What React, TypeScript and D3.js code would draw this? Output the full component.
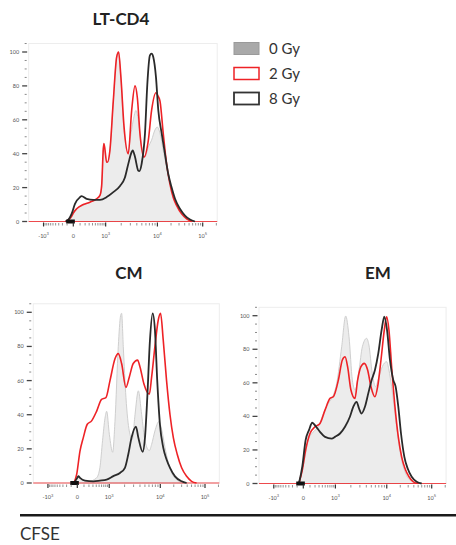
import React from "react";
import * as d3 from "d3";

type Pt = [number, number];

// ---------- text / axis definitions ----------
const PANEL_TITLES = ["LT-CD4", "CM", "EM"];
const SERIES_LABELS = ["0 Gy", "2 Gy", "8 Gy"];
const Y_TICK_VALUES = [0, 20, 40, 60, 80, 100];
const Y_MINOR_VALUES = [5, 10, 15, 25, 30, 35, 45, 50, 55, 65, 70, 75, 85, 90, 95, 105];
const X_TICK_VALUES = [-1000, 0, 1000, 10000, 100000];
const X_TICK_BASES = ["-10", "0", "10", "10", "10"];
const X_TICK_EXPS = ["3", "", "3", "4", "5"];
const X_MINOR_VALUES = [
  -900, -800, -700, -600, -500, -400, -300, -200, -100,
  100, 200, 300, 400, 500, 600, 700, 800, 900,
  2000, 3000, 4000, 5000, 6000, 7000, 8000, 9000,
  20000, 30000, 40000, 50000, 60000, 70000, 80000, 90000, 200000,
];
const CHANNEL_DOMAIN: [number, number] = [-345, 1112];
const Y_MAX = 105;
const AXIS_TITLE = "CFSE";

// ---------- histogram data: [biex channel, % of max] ----------
const LT_0GY: Pt[] = [
  [-60, 0], [-39, 1], [-13, 3], [0, 4.5], [26, 7.5], [77, 9.5], [129, 11.4], [180, 13.4],
  [206, 15.4], [219, 20], [232, 43], [237, 46], [258, 35], [270, 35], [283, 42], [309, 71],
  [335, 97], [350, 100], [366, 87], [386, 60], [412, 42], [420, 40], [438, 48], [464, 60],
  [484, 65.5], [502, 60], [528, 44], [554, 38], [580, 44], [605, 48], [631, 54], [649, 55.7],
  [670, 52], [695, 42], [721, 32], [747, 23], [773, 16], [799, 10], [824, 6.5], [863, 2.6],
  [902, 0.6], [940, 0],
];
const LT_2GY: Pt[] = [
  [-60, 0], [-39, 1], [-13, 3], [0, 5], [26, 7.5], [77, 10], [129, 11.4], [180, 13.4],
  [206, 15.4], [219, 21], [232, 43], [237, 46], [258, 35], [263, 35], [283, 42], [309, 71],
  [335, 97], [350, 100], [368, 85], [392, 56], [425, 40], [451, 65.5], [477, 80], [495, 73],
  [515, 52], [546, 38], [580, 48], [605, 65.5], [639, 76], [655, 74], [670, 71], [695, 52],
  [721, 34], [747, 22], [773, 14], [799, 9.4], [837, 4.5], [876, 1.6], [914, 0],
];
const LT_8GY: Pt[] = [
  [-60, 0], [-39, 1], [-13, 4.5], [13, 10.4], [52, 14.4], [64, 15], [103, 13.4], [155, 12.8],
  [206, 12.8], [258, 14.4], [309, 17.3], [361, 21], [399, 26], [425, 34], [451, 41], [459, 42],
  [477, 38], [502, 30], [510, 29.7], [528, 34], [554, 52], [572, 81], [592, 98], [605, 99],
  [618, 97], [639, 85], [657, 65.5], [683, 52], [708, 40], [734, 28], [760, 20], [786, 13.4],
  [824, 7.5], [863, 3.5], [902, 1.2], [940, 0],
];

const CM_0GY: Pt[] = [
  [-40, 0], [-18, 1], [8, 4], [34, 2], [90, 1], [151, 3], [177, 9], [198, 25], [217, 38],
  [230, 42], [251, 28.5], [277, 18], [295, 36], [321, 80], [339, 98], [347, 99.4], [360, 80],
  [381, 50], [407, 30.5], [431, 25.6], [452, 40], [478, 54], [504, 40], [530, 24.6], [564, 19],
  [582, 22.6], [608, 30.5], [639, 36], [660, 31.5], [687, 20.7], [713, 11.8], [739, 5.9],
  [778, 2], [817, 0.4], [856, 0],
];
const CM_2GY: Pt[] = [
  [-26, 0], [-5, 5], [21, 18.7], [47, 26.6], [78, 34.4], [112, 36.4], [151, 42], [190, 49],
  [224, 50], [256, 60], [295, 72.8], [321, 75.8], [347, 70], [381, 56], [407, 62], [438, 70],
  [472, 72], [491, 68], [522, 58], [564, 52], [582, 62], [608, 80], [634, 95.5], [652, 99.4],
  [673, 83.7], [699, 60], [726, 40], [752, 26.6], [783, 16.7], [817, 8.9], [856, 3.9],
  [895, 1], [934, 0],
];
const CM_8GY: Pt[] = [
  [-26, 0], [0, 3], [8, 4], [21, 3], [60, 1.4], [125, 1], [177, 1.4], [230, 2], [282, 4],
  [334, 5.9], [373, 8.9], [399, 16.7], [425, 26.6], [459, 33], [478, 26.6], [512, 18.3],
  [530, 26.6], [548, 50], [569, 83.7], [590, 99.4], [608, 89.6], [626, 60], [647, 34.4],
  [673, 20.7], [699, 13.8], [726, 8.9], [765, 3.9], [817, 1], [856, 0],
];

const EM_0GY: Pt[] = [
  [-50, 0], [-39, 1], [-13, 6], [13, 16], [39, 26], [78, 30.8], [117, 33.8], [156, 41.7],
  [195, 47.7], [234, 52.7], [260, 59.6], [299, 81.5], [330, 99.8], [356, 87.5], [382, 61.6],
  [404, 55.7], [434, 67.6], [460, 81.5], [493, 86.5], [511, 82.5], [537, 65.6], [563, 57.7],
  [589, 63.6], [615, 69.6], [649, 72.6], [667, 67.6], [688, 57.7], [714, 41.7], [740, 25.8],
  [766, 13.9], [792, 7], [818, 3], [857, 1], [896, 0],
];
const EM_2GY: Pt[] = [
  [-34, 0], [-8, 8], [18, 19.9], [52, 29.8], [91, 33.8], [130, 35.8], [169, 43.7], [208, 50.7],
  [234, 51.7], [273, 61.6], [304, 73.6], [325, 75.5], [345, 69.6], [371, 55.7], [402, 50.7],
  [423, 61.6], [449, 69.6], [475, 71.6], [501, 67.6], [527, 57.7], [558, 51.7], [579, 57.7],
  [605, 73.6], [631, 91.5], [649, 99.4], [667, 91.5], [688, 69.6], [714, 45.7], [740, 27.8],
  [766, 15.9], [792, 8.9], [823, 4], [857, 1], [896, 0],
];
const EM_8GY: Pt[] = [
  [-34, 0], [-8, 10], [18, 25.8], [44, 31.8], [70, 36.2], [96, 34.2], [130, 30.8], [169, 27.8],
  [221, 26.8], [247, 27.8], [286, 29.8], [325, 33.8], [363, 39.8], [389, 45.7], [415, 48.7],
  [434, 44.7], [454, 41.7], [480, 45.7], [506, 53.7], [532, 61.6], [558, 67.6], [584, 77.5],
  [610, 91.5], [631, 99.4], [652, 91.5], [675, 73.6], [701, 61.6], [719, 57.7], [740, 45.7],
  [761, 29.8], [787, 15.9], [813, 8.9], [844, 4], [883, 1], [922, 0],
];

// events piled on zero (thick black smear on the axis)
const ZERO_PILE: Pt[] = [[-55, 0], [12, 0]];

const PANEL_DATA: Pt[][][] = [
  [LT_0GY, LT_2GY, LT_8GY],
  [CM_0GY, CM_2GY, CM_8GY],
  [EM_0GY, EM_2GY, EM_8GY],
];

// ---------- layout / style ----------
const LAYOUT = [
  { zero: 73.3, top5: 202.7, base: 221.5, hundred: 52, tx: 121, ty: 25 },
  { zero: 77.3, top5: 205, base: 483, hundred: 312.3, tx: 129, ty: 279 },
  { zero: 303.3, top5: 431.7, base: 483.5, hundred: 315.7, tx: 378, ty: 279 },
];
const FONT = "Lato, 'Open Sans', 'DejaVu Sans', sans-serif";
const RED = "#ee2226";
const BLACK = "#2a2a2a";
const GRAY_FILL = "#ececec";
const GRAY_LINE = "#cfcfcf";

// biexponential-like display transform: intensity -> channel
function toChannel(v: number): number {
  const C = 250;
  const L = Math.log10(1 + 1000 / C);
  if (v >= 10000) return 650 + 350 * Math.log10(v / 10000);
  if (v >= 1000) return 250 + 400 * Math.log10(v / 1000);
  const s = Math.log10(1 + Math.abs(v) / C) / L;
  return v >= 0 ? 250 * s : -230 * s;
}

function Panel({ idx }: { idx: number }) {
  const lay = LAYOUT[idx];
  const x = d3.scaleLinear().domain([0, 1000]).range([lay.zero, lay.top5]);
  const y = d3.scaleLinear().domain([0, 100]).range([lay.base, lay.hundred]);
  const [g0, r2, b8] = PANEL_DATA[idx];

  const area = d3
    .area<Pt>()
    .x((d) => x(d[0]))
    .y0(y(0))
    .y1((d) => y(d[1]))
    .curve(d3.curveMonotoneX);
  const line = d3
    .line<Pt>()
    .x((d) => x(d[0]))
    .y((d) => y(d[1]))
    .curve(d3.curveMonotoneX);

  const left = x(CHANNEL_DOMAIN[0]);
  const right = x(CHANNEL_DOMAIN[1]);
  const top = y(Y_MAX);
  const bottom = y(0);

  return (
    <g>
      <text
        x={lay.tx}
        y={lay.ty}
        textAnchor="middle"
        fontFamily={FONT}
        fontWeight={700}
        fontSize={17}
        fill="#222"
      >
        {PANEL_TITLES[idx]}
      </text>
      {/* faint frame */}
      <rect x={left} y={top} width={right - left} height={bottom - top} fill="none" stroke="#ededed" strokeWidth={1} />

      {/* y ticks */}
      {Y_MINOR_VALUES.map((v) => (
        <line key={"ym" + v} x1={left - 4} x2={left - 2} y1={y(v)} y2={y(v)} stroke="#8a8a8a" strokeWidth={1} />
      ))}
      {Y_TICK_VALUES.map((v) => (
        <g key={"y" + v}>
          <line x1={left - 6.5} x2={left - 1.5} y1={y(v)} y2={y(v)} stroke="#444" strokeWidth={1.3} />
          <text
            x={left - 9.5}
            y={y(v) + 2}
            textAnchor="end"
            fontFamily={FONT}
            fontSize={5.5}
            fill="#555"
          >
            {v}
          </text>
        </g>
      ))}

      {/* histograms */}
      <path d={area(g0) ?? ""} fill={GRAY_FILL} stroke={GRAY_LINE} strokeWidth={1} />
      <line x1={left} x2={right} y1={bottom} y2={bottom} stroke={RED} strokeWidth={1} opacity={0.8} />
      <path d={line(r2) ?? ""} fill="none" stroke={RED} strokeWidth={1.6} strokeLinejoin="round" />
      <path d={line(b8) ?? ""} fill="none" stroke={BLACK} strokeWidth={1.8} strokeLinejoin="round" />
      <path d={line(ZERO_PILE) ?? ""} fill="none" stroke="#111" strokeWidth={4} />

      {/* x ticks */}
      {X_MINOR_VALUES.map((v) => (
        <line
          key={"xm" + v}
          x1={x(toChannel(v))}
          x2={x(toChannel(v))}
          y1={bottom + 1.5}
          y2={bottom + 4}
          stroke="#777"
          strokeWidth={0.8}
        />
      ))}
      {X_TICK_VALUES.map((v, i) => {
        const px = x(toChannel(v));
        return (
          <g key={"x" + v}>
            <line x1={px} x2={px} y1={bottom + 1} y2={bottom + 5} stroke="#333" strokeWidth={1.2} />
            <text
              x={px}
              y={bottom + 16}
              textAnchor="middle"
              fontFamily={FONT}
              fontSize={5.5}
              fill="#555"
            >
              {X_TICK_BASES[i]}
              {X_TICK_EXPS[i] ? (
                <tspan dy={-2.5} fontSize={4}>
                  {X_TICK_EXPS[i]}
                </tspan>
              ) : null}
            </text>
          </g>
        );
      })}
    </g>
  );
}

function Legend() {
  const rows = [
    { fill: "#a9a9a9", stroke: "#9a9a9a", sw: 1 },
    { fill: "#ffffff", stroke: RED, sw: 1.5 },
    { fill: "#ffffff", stroke: "#333", sw: 1.8 },
  ];
  const ys = d3.scalePoint<number>().domain([0, 1, 2]).range([48.5, 98.5]);
  return (
    <g>
      {SERIES_LABELS.map((lab, i) => (
        <g key={lab}>
          <rect
            x={234}
            y={(ys(i) ?? 0) - 6}
            width={25}
            height={12}
            fill={rows[i].fill}
            stroke={rows[i].stroke}
            strokeWidth={rows[i].sw}
          />
          <text x={269} y={(ys(i) ?? 0) + 5} fontFamily={FONT} fontSize={15} fill="#333">
            {lab}
          </text>
        </g>
      ))}
    </g>
  );
}

export default function App() {
  return (
    <svg
      width={456}
      height={545}
      viewBox="0 0 456 545"
      style={{ position: "absolute", left: 0, top: 0, background: "#fff" }}
    >
      <rect x={0} y={0} width={456} height={545} fill="#fff" />
      {[0, 1, 2].map((i) => (
        <Panel key={i} idx={i} />
      ))}
      <Legend />
      <line x1={20} x2={456} y1={515.3} y2={515.3} stroke="#1a1a1a" strokeWidth={2.5} />
      <text x={20} y={540} fontFamily={FONT} fontSize={17} fill="#333">
        {AXIS_TITLE}
      </text>
    </svg>
  );
}
